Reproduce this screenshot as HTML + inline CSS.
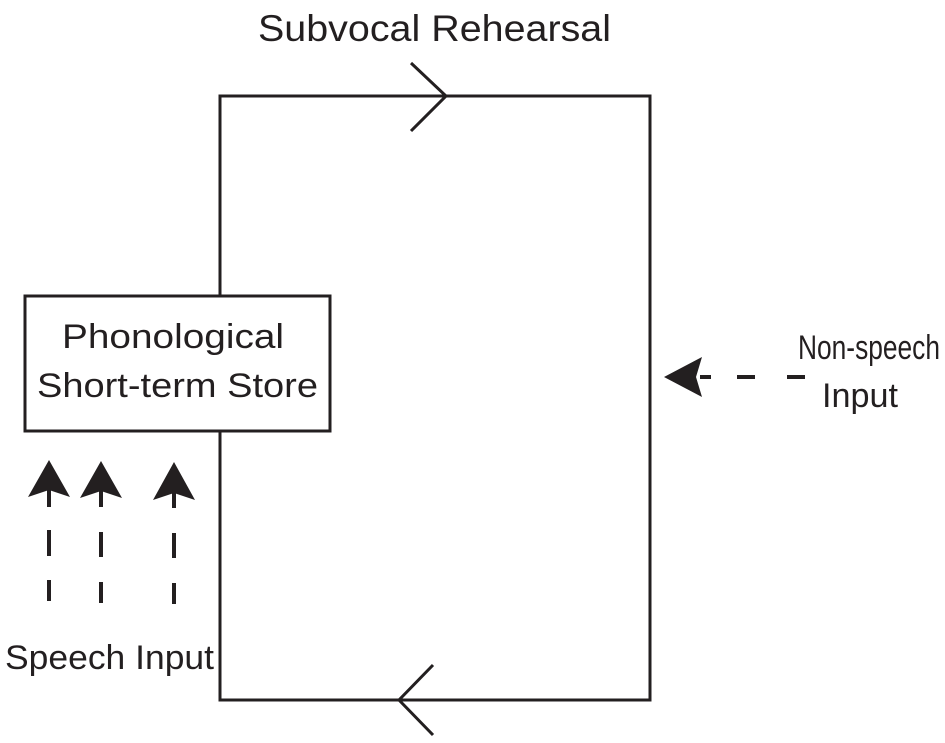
<!DOCTYPE html>
<html><head><style>body{margin:0;background:#fff}svg{display:block}</style></head><body>
<svg width="945" height="743" viewBox="0 0 945 743" xmlns="http://www.w3.org/2000/svg" font-family="Liberation Sans, sans-serif" fill="#231f20">
<g stroke="#231f20" stroke-width="3" fill="none">
<polyline points="220,296 220,96 650,96 650,700 220,700 220,431"/>
<rect x="25" y="296" width="305" height="135"/>
<polyline points="411,63 446,96 411,131"/>
<polyline points="433,665 399,700 433,735"/>
<g stroke-width="4">
<line x1="49" y1="490" x2="49" y2="507"/><line x1="49" y1="530" x2="49" y2="556"/><line x1="49" y1="580" x2="49" y2="601"/>
<line x1="101" y1="490" x2="101" y2="507"/><line x1="101" y1="532" x2="101" y2="557"/><line x1="101" y1="582" x2="101" y2="603"/>
<line x1="174" y1="490" x2="174" y2="508"/><line x1="174" y1="533" x2="174" y2="558"/><line x1="174" y1="583" x2="174" y2="604"/>
<line x1="700" y1="377" x2="711" y2="377"/><line x1="737" y1="377" x2="755" y2="377"/><line x1="787" y1="377" x2="805" y2="377"/>
</g>
</g>
<g stroke="none">
<path d="M49,460 L70,497 L49,490 L28,497 Z"/>
<path d="M101,461 L122,498 L101,491 L80,498 Z"/>
<path d="M174,462 L195,500 L174,493 L153,500 Z"/>
<path d="M664,377 L702,357 L696,377 L702,397 Z"/>
</g>
<g font-size="37">
<text x="258" y="41" textLength="353" lengthAdjust="spacingAndGlyphs">Subvocal Rehearsal</text>
</g>
<g font-size="34">
<text x="62" y="348" textLength="222" lengthAdjust="spacingAndGlyphs">Phonological</text>
<text x="37" y="397" textLength="281" lengthAdjust="spacingAndGlyphs">Short-term Store</text>
<text x="798" y="359" textLength="142" lengthAdjust="spacingAndGlyphs">Non-speech</text>
<text x="822" y="407" textLength="76" lengthAdjust="spacingAndGlyphs">Input</text>
<text x="5" y="669" textLength="209" lengthAdjust="spacingAndGlyphs">Speech Input</text>
</g>
</svg>
</body></html>
